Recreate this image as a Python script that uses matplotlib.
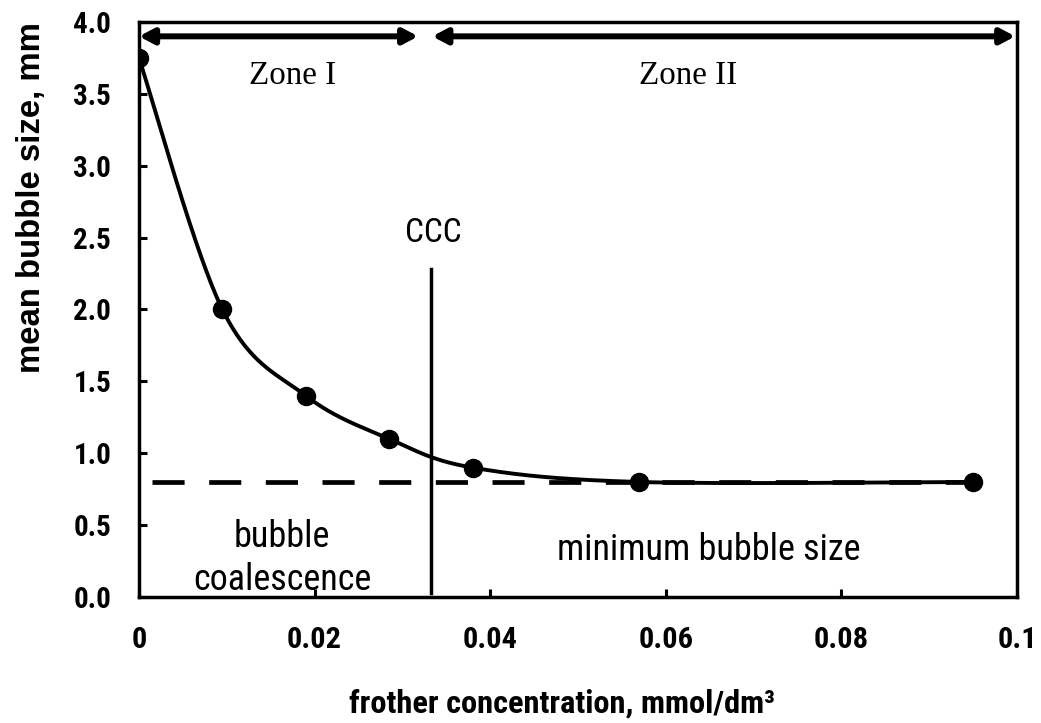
import numpy as np
import matplotlib
matplotlib.use("Agg")
import matplotlib.pyplot as plt
from matplotlib import font_manager as fm

# data
conc = [0.0, 0.0095, 0.019, 0.0285, 0.038, 0.057, 0.095]
bubble_size = [3.75, 2.0, 1.4, 1.1, 0.9, 0.8, 0.8]
min_size = 0.8
ccc = 0.0333
x_ticks = [0, 0.02, 0.04, 0.06, 0.08, 0.1]
x_tick_labels = ["0", "0.02", "0.04", "0.06", "0.08", "0.1"]
y_ticks = [0.0, 0.5, 1.0, 1.5, 2.0, 2.5, 3.0, 3.5, 4.0]
y_tick_labels = ["0.0", "0.5", "1.0", "1.5", "2.0", "2.5", "3.0", "3.5", "4.0"]

# pick a narrow sans family if one is installed
_avail = {}
for f in fm.fontManager.ttflist:
    _avail.setdefault(f.name, set()).add(f.weight if isinstance(f.weight, int) else 400)
narrow = None
for cand in ["Roboto Condensed", "Arimo Narrow", "Archivo Narrow", "PT Sans Narrow",
             "Open Sans Condensed", "Liberation Sans Narrow", "Cabin Condensed",
             "Sofia Sans Semi Condensed"]:
    if cand in _avail:
        narrow = cand
        break
if narrow is None:
    NARROW = dict(family="DejaVu Sans", stretch="condensed")
else:
    NARROW = dict(family=narrow)
SERIF = dict(family="Liberation Serif")
ARIAL = dict(family="Liberation Sans")


def smooth_curve(xs, ys, sx, sy, n=60):
    # Catmull-Rom (Excel-like smoothed line) in scaled space
    P = np.column_stack([np.asarray(xs) / sx, np.asarray(ys) / sy])
    P = np.vstack([P[0], P, P[-1]])
    out = []
    for i in range(1, len(P) - 2):
        p0, p1, p2, p3 = P[i - 1], P[i], P[i + 1], P[i + 2]
        c1 = p1 + (p2 - p0) / 6.0
        c2 = p2 - (p3 - p1) / 6.0
        t = np.linspace(0, 1, n)[:, None]
        seg = ((1 - t) ** 3) * p1 + 3 * ((1 - t) ** 2) * t * c1 + 3 * (1 - t) * t ** 2 * c2 + t ** 3 * p2
        out.append(seg)
    out = np.vstack(out)
    return out[:, 0] * sx, out[:, 1] * sy


fig = plt.figure(figsize=(10.41, 7.23), dpi=100)
renderer = fig.canvas.get_renderer()
ax = fig.add_axes([0.1335, 0.1743, 0.8435, 0.7953])


def size_for(text, target_px, rotation=0, **props):
    t = fig.text(0, 0, text, fontsize=20, rotation=rotation, **props)
    bb = t.get_window_extent(renderer)
    w = bb.height if rotation else bb.width
    t.remove()
    return 20 * target_px / w


cx, cy = smooth_curve(conc, bubble_size, 0.1 / 878, 4.0 / 575)
ax.plot(cx, cy, color="black", lw=2.8, zorder=3)
ax.plot(conc, bubble_size, "o", color="black", ms=13, zorder=4)

ax.plot([0.0015, 0.095], [min_size, min_size], color="black", lw=3.4,
        dashes=(6.8, 5.2), zorder=2)
ax.plot([ccc, ccc], [0.03, 2.28], color="black", lw=2.5, zorder=2)

# zone arrows
arrow_y = 3.9
akw = dict(arrowstyle="<|-|>,head_length=0.85,head_width=0.45", color="black",
           lw=4.3, shrinkA=0, shrinkB=0)
ax.annotate("", xy=(0.0318, arrow_y), xytext=(0.0, arrow_y), arrowprops=akw)
ax.annotate("", xy=(0.0998, arrow_y), xytext=(0.0334, arrow_y), arrowprops=akw)

zfs = size_for("Zone I", 87, **SERIF)
ax.text(0.0175, 3.57, "Zone I", fontsize=zfs, ha="center", va="baseline", **SERIF)
ax.text(0.0625, 3.57, "Zone II", fontsize=zfs, ha="center", va="baseline", **SERIF)

cfs = size_for("CCC", 57, **NARROW)
ax.text(0.0335, 2.47, "CCC", fontsize=cfs, ha="center", va="baseline", **NARROW)

tfs = size_for("minimum bubble size", 303, **NARROW)
ax.text(0.01629, 0.348, "bubble", fontsize=tfs, ha="center", va="baseline", **NARROW)
ax.text(0.01629, 0.049, "coalescence", fontsize=tfs, ha="center", va="baseline", **NARROW)
ax.text(0.06486, 0.257, "minimum bubble size", fontsize=tfs, ha="center",
        va="baseline", **NARROW)

ax.set_xlim(0, 0.1)
ax.set_ylim(0, 4.0)
xfs = size_for("0.06", 55, fontweight="bold", **NARROW)
yfs = size_for("2.0", 38, fontweight="bold", **NARROW)
ax.set_xticks(x_ticks)
ax.set_xticklabels(x_tick_labels, fontsize=xfs, fontweight="bold", **NARROW)
ax.set_yticks(y_ticks)
ax.set_yticklabels(y_tick_labels, fontsize=yfs, fontweight="bold", **NARROW)
ax.tick_params(axis="both", direction="in", length=6, width=2.2)
ax.tick_params(axis="x", pad=21)
ax.tick_params(axis="y", pad=20)
for s in ax.spines.values():
    s.set_linewidth(2.5)

ylfs = size_for("mean bubble size, mm", 350, rotation=90, fontweight="bold", **ARIAL)
ax.set_ylabel("mean bubble size, mm", fontsize=ylfs, fontweight="bold", **ARIAL)
ax.yaxis.set_label_coords(-0.122, 0.695)
ax.yaxis.label.set_verticalalignment("center")

xlabel = "frother concentration, mmol/dm³"
xlfs = size_for(xlabel, 425, fontweight="bold", **NARROW)
ax.set_xlabel(xlabel, fontsize=xlfs, fontweight="bold", **NARROW)
ax.xaxis.set_label_coords(0.482, -0.2017)
ax.xaxis.label.set_verticalalignment("baseline")

fig.savefig("out.png", dpi=100)
